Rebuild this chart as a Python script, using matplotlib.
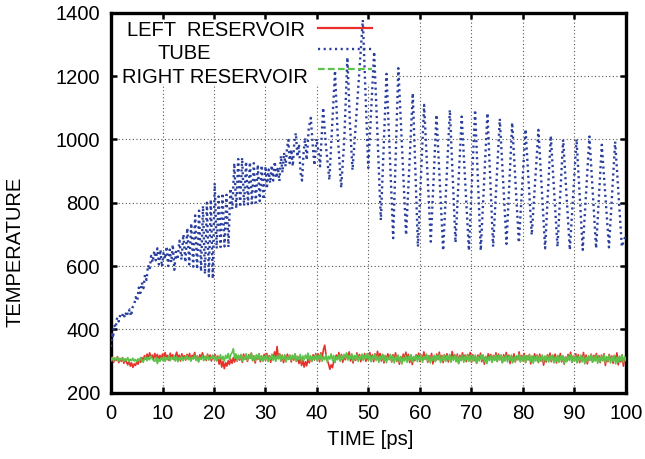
import matplotlib
matplotlib.use("Agg")
import matplotlib.pyplot as plt
import numpy as np
from matplotlib.patches import Rectangle

plt.rcParams['font.family'] = ['Liberation Sans', 'DejaVu Sans']

# ---------------------------------------------------------------------------
# Temperatures (K) of the three regions versus simulation time (ps)
# ---------------------------------------------------------------------------
series_labels = ["LEFT  RESERVOIR", "TUBE", "RIGHT RESERVOIR"]
x_ticks = [0, 10, 20, 30, 40, 50, 60, 70, 80, 90, 100]
y_ticks = [200, 400, 600, 800, 1000, 1200, 1400]

# reservoirs are sampled every 0.25 ps
reservoir_step = 0.25

left_reservoir = [
    300, 312, 296, 309, 302, 314, 295, 308, 299, 311, 293, 306, 297, 288, 302, 284, 294, 280, 291, 286,
    298, 290, 305, 296, 311, 301, 317, 306, 322, 309, 326, 312, 319, 305, 324, 310, 321, 303, 318, 308,
    322, 306, 327, 311, 318, 302, 325, 309, 320, 304, 316, 328, 307, 319, 300, 323, 310, 317, 303, 321,
    309, 324, 301, 318, 312, 327, 305, 316, 298, 320, 308, 326, 311, 315, 302, 322, 306, 319, 300, 317,
    312, 320, 301, 316, 290, 308, 281, 299, 276, 295, 284, 301, 289, 306, 293, 311, 297, 314, 300, 318,
    303, 319, 296, 322, 306, 314, 299, 320, 309, 325, 301, 316, 294, 318, 305, 323, 298, 313, 304, 321,
    302, 324, 308, 317, 296, 321, 305, 329, 311, 346, 308, 323, 300, 319, 295, 316, 301, 322, 306, 318,
    297, 318, 303, 322, 299, 314, 292, 309, 286, 303, 281, 298, 285, 307, 294, 313, 300, 320, 303, 324,
    307, 322, 298, 326, 311, 336, 350, 320, 302, 291, 274, 288, 279, 300, 302, 319, 306, 327, 301, 321,
    296, 317, 304, 323, 308, 329, 300, 320, 294, 316, 302, 326, 306, 321, 298, 318, 305, 324, 299, 315,
    303, 327, 307, 320, 298, 323, 305, 331, 309, 324, 300, 321, 294, 317, 302, 323, 307, 319, 297, 320,
    304, 326, 299, 317, 290, 314, 297, 322, 303, 328, 307, 321, 295, 318, 289, 313, 301, 320, 308, 325,
    298, 319, 304, 329, 306, 321, 296, 317, 301, 324, 291, 316, 300, 322, 305, 328, 301, 318, 295, 320,
    303, 323, 297, 317, 305, 330, 307, 320, 299, 322, 292, 318, 302, 326, 306, 319, 298, 321, 304, 327,
    296, 320, 301, 315, 293, 319, 304, 325, 298, 316, 290, 313, 301, 323, 307, 321, 297, 318, 303, 326,
    299, 322, 305, 317, 295, 320, 301, 327, 306, 319, 292, 316, 300, 323, 297, 315, 304, 329, 298, 318,
    301, 324, 296, 317, 304, 321, 291, 315, 299, 323, 305, 319, 295, 322, 300, 316, 287, 312, 297, 320,
    303, 325, 298, 318, 306, 322, 294, 317, 301, 324, 297, 315, 290, 313, 299, 321, 304, 328, 296, 316,
    300, 323, 305, 320, 295, 316, 301, 327, 298, 319, 291, 314, 303, 322, 297, 318, 304, 324, 299, 317,
    295, 319, 301, 323, 286, 313, 298, 321, 303, 316, 293, 318, 300, 326, 288, 314, 297, 320, 284, 310,
    300,
]

right_reservoir = [
    303, 311, 301, 309, 304, 312, 300, 308, 303, 310, 299, 307, 302, 311, 298, 306, 301, 309, 300, 305,
    298, 307, 300, 311, 303, 296, 308, 313, 301, 311, 304, 316, 307, 302, 299, 312, 292, 306, 299, 311,
    302, 314, 299, 310, 304, 317, 301, 312, 306, 316, 300, 313, 298, 311, 305, 315, 301, 312, 306, 317,
    304, 313, 300, 312, 306, 318, 302, 315, 298, 311, 305, 317, 301, 314, 306, 318, 303, 312, 307, 319,
    305, 316, 301, 313, 307, 320, 303, 315, 300, 318, 308, 324, 304, 321, 326, 339, 309, 323, 302, 318,
    307, 321, 299, 314, 305, 323, 302, 317, 308, 325, 303, 316, 300, 320, 306, 322, 303, 317, 299, 315,
    304, 319, 298, 314, 306, 321, 302, 316, 299, 315, 307, 322, 301, 317, 304, 320, 297, 314, 305, 319,
    302, 318, 306, 323, 300, 315, 305, 321, 299, 316, 304, 319, 308, 325, 302, 317, 298, 315, 306, 321,
    301, 317, 305, 322, 299, 314, 304, 320, 297, 315, 306, 323, 302, 318, 295, 313, 304, 319, 300, 317,
    305, 321, 309, 326, 303, 318, 307, 323, 300, 317, 305, 321, 299, 316, 306, 322, 302, 318, 307, 324,
    303, 319, 298, 316, 306, 322, 302, 317, 296, 315, 305, 320, 300, 318, 295, 313, 304, 321, 299, 316,
    294, 315, 302, 319, 297, 314, 291, 312, 300, 317, 296, 314, 302, 320, 297, 315, 304, 318, 298, 316,
    302, 319, 296, 315, 305, 321, 299, 316, 294, 314, 302, 318, 298, 317, 304, 320, 295, 315, 301, 318,
    299, 317, 304, 321, 296, 314, 302, 319, 298, 316, 293, 313, 301, 318, 296, 315, 304, 320, 299, 317,
    297, 316, 302, 319, 294, 314, 300, 318, 304, 320, 298, 315, 292, 313, 301, 317, 296, 316, 302, 319,
    298, 317, 303, 320, 295, 314, 301, 318, 297, 316, 302, 319, 294, 313, 299, 317, 304, 321, 298, 315,
    301, 318, 295, 315, 304, 320, 298, 316, 293, 314, 300, 317, 296, 315, 302, 319, 297, 316, 301, 318,
    297, 316, 302, 319, 294, 313, 300, 318, 296, 315, 301, 317, 292, 313, 298, 316, 302, 320, 296, 315,
    300, 317, 294, 314, 301, 319, 297, 315, 291, 312, 298, 317, 302, 320, 296, 314, 300, 318, 293, 313,
    298, 316, 302, 319, 295, 314, 301, 318, 294, 313, 299, 317, 291, 312, 297, 316, 301, 319, 296, 314,
    303,
]

tube_time = [
    0.0, 0.2, 0.4, 0.6, 0.9, 1.2, 1.5, 1.8, 2.1, 2.4, 2.7, 3.0, 3.3, 3.6, 3.9,
    4.2, 4.5, 4.8, 5.1, 5.4, 5.7, 6.0, 6.3, 6.6, 6.9, 7.2, 7.5, 7.8, 8.1, 8.4,
    8.7, 9.0, 9.3, 9.6, 9.9, 10.2, 10.5, 10.8, 11.1, 11.4, 11.7, 12.0, 12.3, 12.6, 12.9,
    13.3, 13.68, 14.06, 14.44, 14.82, 15.2, 15.58, 15.96, 16.34, 16.72, 17.1, 17.48,
    17.86, 18.24, 18.62, 19.0, 19.38, 19.76, 20.14, 20.52, 20.9, 21.28, 21.66, 22.04,
    22.42, 22.8, 23.18, 23.56, 23.94, 24.32, 24.7, 25.08, 25.46, 25.84, 26.22, 26.6,
    26.98, 27.36, 27.74, 28.12, 28.5, 28.88, 29.26, 29.64, 30.0,
    30.3, 30.6, 30.9, 31.2, 31.5, 31.8, 32.1, 32.4, 32.7, 33.0, 33.3, 33.6, 33.9, 34.2,
    34.45, 34.7, 35.0, 35.3, 35.6, 35.9, 36.2, 36.5, 36.8, 37.1, 37.4, 37.7, 38.0, 38.4,
    38.8, 39.2, 39.5, 39.9, 40.3, 40.6, 41.2, 41.7, 42.4, 43.5, 44.0, 44.7, 45.3, 45.9,
    46.4, 46.9, 47.5, 48.9, 49.95, 51.1, 52.4,
    53.5, 54.8, 55.8, 57.3, 58.6, 59.6, 60.8, 62.1, 63.2, 64.5, 65.8, 66.9, 68.1, 69.5,
    70.7, 71.8, 73.1, 74.2, 75.5, 76.8, 77.9, 79.2, 80.5, 81.7, 83.0, 84.3, 85.4, 86.7,
    87.8, 89.1, 90.4, 91.6, 92.9, 94.2, 95.3, 96.7, 97.9, 99.2, 100.0,
]

tube_temp = [
    345, 390, 372, 415, 405, 438, 425, 446, 440, 452, 437, 458, 446, 463, 442,
    470, 478, 502, 490, 532, 515, 548, 530, 572, 556, 603, 588, 632, 612, 648,
    618, 656, 605, 652, 598, 642, 622, 662, 600, 652, 612, 668, 588, 645, 620,
    680, 620, 700, 612, 720, 605, 735, 598, 760, 590, 775, 583,
    790, 575, 800, 568, 810, 560, 862, 655, 820, 660, 830, 662,
    825, 660, 845, 780, 925, 782, 938, 786, 942, 790, 930, 795,
    928, 798, 925, 800, 920, 805, 918, 810, 915,
    852, 905, 862, 918, 870, 930, 878, 912, 868, 948, 895, 958, 915, 975,
    998, 925, 968, 915, 992, 1020, 945, 985, 895, 870, 958, 1005, 935, 1035,
    1068, 975, 918, 1002, 960, 915, 1100, 985, 872, 1217, 1020, 847, 1000, 1259,
    1050, 903, 1040, 1377, 910, 1277, 745,
    1207, 688, 1225, 698, 1146, 661, 1109, 677, 1078, 649, 1093, 674, 1072, 649,
    1093, 649, 1083, 661, 1065, 670, 1053, 674, 1032, 698, 1030, 656, 1011, 661,
    999, 651, 1001, 651, 1009, 656, 983, 659, 993, 661, 700,
]

reservoir_time = np.arange(len(left_reservoir)) * reservoir_step

RED = '#E8302A'
BLUE = '#2B3F9E'
GREEN = '#5CC24A'
FS = 14.5

fig = plt.figure(figsize=(6.45, 4.59), dpi=100)
ax = fig.add_axes([0.1721, 0.1444, 0.7984, 0.8279])
ax.set_xlim(0, 100)
ax.set_ylim(200, 1400)

# dotted grid at the inner major ticks
grid_style = dict(color='#555555', lw=0.8, dashes=(1.0, 2.2), zorder=1)
for xv in x_ticks[1:-1]:
    ax.axvline(xv, **grid_style)
for yv in y_ticks[1:-1]:
    ax.axhline(yv, **grid_style)

# opaque key area
ax.add_patch(Rectangle((0, 1175), 54.2, 225, facecolor='white',
                       edgecolor='none', zorder=1.2))

ax.plot(reservoir_time, left_reservoir, color=RED, lw=1.2, zorder=3)
ax.plot(tube_time, tube_temp, color=BLUE, lw=1.7, dashes=(0.9, 1.5), zorder=4)
ax.plot(reservoir_time, right_reservoir, color=GREEN, lw=1.2, zorder=5)

# key: labels left of the line samples
ax.text(37.7, 1328, series_labels[0], ha='right', va='baseline', fontsize=FS, zorder=6)
ax.text(14.2, 1255, series_labels[1], ha='center', va='baseline', fontsize=FS, zorder=6)
ax.text(38.25, 1178, series_labels[2], ha='right', va='baseline', fontsize=FS, zorder=6)
ax.plot([40.2, 50.7], [1351, 1351], color=RED, lw=1.6, zorder=6)
ax.plot([40.2, 50.7], [1286, 1286], color=BLUE, lw=1.7, dashes=(0.9, 1.5), zorder=6)
ax.plot([40.2, 50.7], [1223, 1223], color=GREEN, lw=1.6, dashes=(3, 1.5), zorder=6)

ax.set_xticks(x_ticks)
ax.set_yticks(y_ticks)
ax.set_axisbelow(False)
ax.tick_params(direction='in', length=4, width=1.8, top=True, right=True,
               labelsize=FS, pad=8)
for sp in ax.spines.values():
    sp.set_linewidth(2.4)

fig.text(0.5736, 0.0414, 'TIME [ps]', ha='center', va='center', fontsize=FS)
fig.text(0.0233, 0.451, 'TEMPERATURE', ha='center', va='center',
         rotation=90, fontsize=FS)

fig.savefig('out.png', dpi=100)
